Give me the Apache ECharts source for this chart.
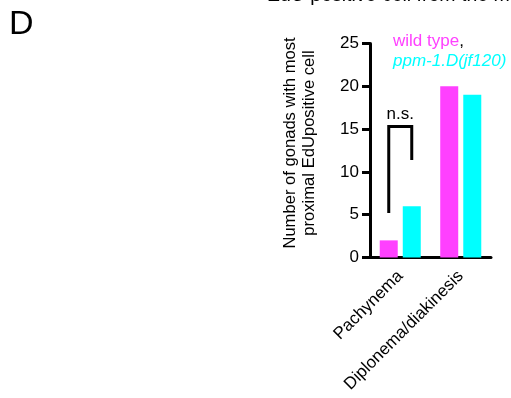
<!DOCTYPE html>
<html>
<head>
<meta charset="utf-8">
<script src="https://cdn.jsdelivr.net/npm/echarts@6/dist/echarts.min.js"></script>
<style>html,body{margin:0;padding:0;background:#fff}#c{width:511px;height:398px}</style>
</head>
<body>
<div id="c"></div>
<script>
const categories = ['Pachynema', 'Diplonema/diakinesis'];
const wildType = [2, 20];
const mutant = [6, 19];
const yTicks = [0, 5, 10, 15, 20, 25];
const seriesNames = ['wild type', 'ppm-1.D(jf120)'];
const yTitle = 'Number of gonads with most\nproximal EdUpositive cell';
const bracketTop = 15.3, bracketLeftBottom = 5.2, bracketRightBottom = 11.4;

const FONT = '"Liberation Sans", Arial, Helvetica, sans-serif';
const MAG = '#ff40ff', CYAN = '#00ffff';

const chart = echarts.init(document.getElementById('c'), null, {renderer: 'canvas'});
chart.setOption({
  animation: false,
  textStyle: {fontFamily: FONT},
  grid: {left: 370, right: 20, top: 43.5, bottom: 140.5, containLabel: false},
  xAxis: {
    type: 'category', data: categories,
    axisLine: {lineStyle: {color: '#000', width: 3}},
    axisTick: {alignWithLabel: true, length: 9, lineStyle: {color: '#000', width: 3}},
    axisLabel: {rotate: 45, fontSize: 17, color: '#000', margin: 16, fontFamily: FONT}
  },
  yAxis: {
    type: 'value', min: yTicks[0], max: yTicks[yTicks.length - 1], interval: 5,
    axisLine: {show: true, lineStyle: {color: '#000', width: 3}},
    axisTick: {show: true, length: 8, lineStyle: {color: '#000', width: 3}},
    axisLabel: {fontSize: 17, color: '#000', margin: 11, fontFamily: FONT},
    splitLine: {show: false}
  },
  series: [
    {name: seriesNames[0], type: 'bar', data: wildType, barWidth: 18, barGap: '28%', itemStyle: {color: MAG}},
    {name: seriesNames[1], type: 'bar', data: mutant, barWidth: 18, barGap: '28%', itemStyle: {color: CYAN}}
  ]
});

const c0 = chart.convertToPixel({xAxisIndex: 0}, categories[0]);
const off = 11.5;
const xl = c0 - off, xr = c0 + off;
const yTop = chart.convertToPixel({yAxisIndex: 0}, bracketTop);
const yLb = chart.convertToPixel({yAxisIndex: 0}, bracketLeftBottom);
const yRb = chart.convertToPixel({yAxisIndex: 0}, bracketRightBottom);

chart.setOption({
  graphic: [
    {type: 'text', left: 9, top: 8, style: {text: 'D', font: '34px ' + FONT, fill: '#000'}},
    {type: 'text', left: 267, top: -14, style: {text: 'EdU positive cell from the most proximal', font: '19.5px ' + FONT, fill: '#000'}},
    {type: 'text', x: 300, y: 143, rotation: Math.PI / 2,
      style: {text: yTitle, font: '16.6px ' + FONT, fill: '#000', textAlign: 'center', textVerticalAlign: 'middle', lineHeight: 19}},
    {type: 'polyline', shape: {points: [[xl, yLb], [xl, yTop], [xr, yTop], [xr, yRb]]},
      style: {stroke: '#000', lineWidth: 3, fill: null}},
    {type: 'text', x: (xl + xr) / 2, y: yTop - 4, style: {text: 'n.s.', font: '17px ' + FONT, fill: '#000', textAlign: 'center', textVerticalAlign: 'bottom'}},
    {type: 'text', left: 393, top: 31, style: {
      text: '{a|' + seriesNames[0] + '}{b|,}\n{c|' + seriesNames[1] + '}',
      lineHeight: 20,
      rich: {
        a: {fontSize: 17, fontFamily: FONT, fill: MAG, color: MAG, lineHeight: 20},
        b: {fontSize: 17, fontFamily: FONT, fill: '#000', color: '#000', lineHeight: 20},
        c: {fontSize: 17, fontFamily: FONT, fontStyle: 'italic', fill: CYAN, color: CYAN, lineHeight: 20}
      }
    }}
  ]
});
</script>
</body>
</html>
